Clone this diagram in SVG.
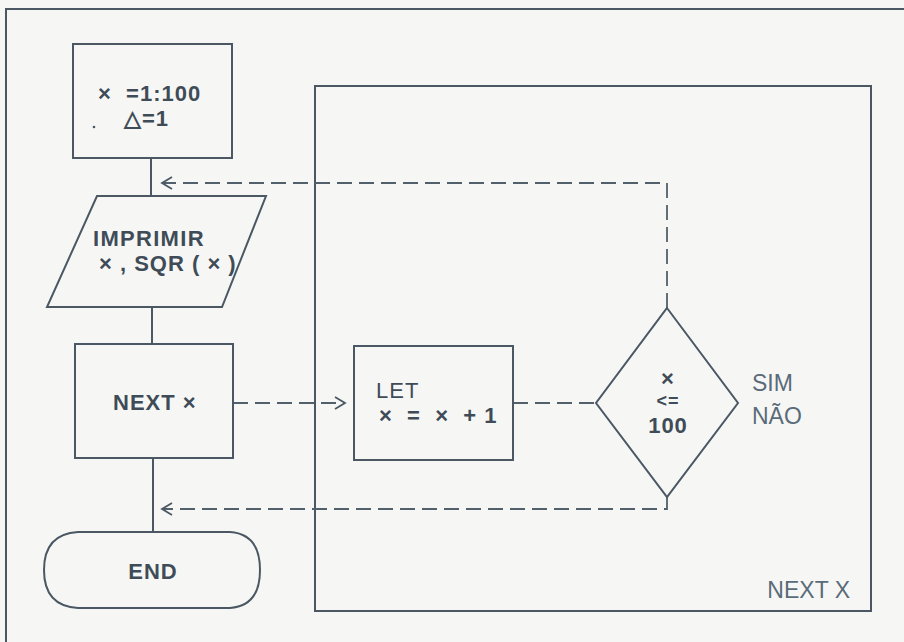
<svg xmlns="http://www.w3.org/2000/svg" width="904" height="642" viewBox="0 0 904 642">
<defs>
<style>
.s{fill:none;stroke:#4b5864;stroke-width:2}
.d{fill:none;stroke:#52606c;stroke-width:1.8;stroke-dasharray:15 7}
.t{font-family:"Liberation Sans",Arial,sans-serif;font-size:22px;font-weight:bold;fill:#3f4c58;letter-spacing:1px}
.r{font-family:"Liberation Sans",Arial,sans-serif;font-size:23px;fill:#5a6b7a}
</style>
<marker id="ah" markerWidth="14" markerHeight="14" refX="12" refY="7" orient="auto" markerUnits="userSpaceOnUse">
<path d="M2,1 L12,7 L2,13" fill="none" stroke="#4b5864" stroke-width="1.8"/>
</marker>
</defs>
<rect width="904" height="642" fill="#f6f7f5"/>
<path class="s" d="M6,642 V9 H904"/>
<g id="loop-frame">
<rect class="s" x="315" y="86" width="556" height="525" stroke-width="1.6"/>
<text class="r" x="850" y="598" text-anchor="end">NEXT X</text>
</g>
<g id="connectors">
<line class="s" x1="151" y1="158" x2="151" y2="196" stroke-width="1.6"/>
<line class="s" x1="152" y1="307" x2="152" y2="344" stroke-width="1.6"/>
<line class="s" x1="153" y1="458" x2="153" y2="532" stroke-width="1.6"/>
<path class="d" d="M233,403 H345" marker-end="url(#ah)"/>
<path class="d" d="M667,308 V183 H162" marker-end="url(#ah)"/>
<path class="d" d="M513,403 H596"/>
<path class="d" d="M667,497 V509 H162" marker-end="url(#ah)"/>
</g>
<g id="init">
<rect class="s" x="73" y="44" width="159" height="114"/>
<text class="t" x="98" y="101" xml:space="preserve">×  =1:100</text>
<text class="t" x="124" y="126">△=1</text>
<circle cx="94" cy="127" r="1.3" fill="#4b5864"/>
</g>
<g id="print">
<polygon class="s" points="97,196 266,196 222,307 47,307"/>
<text class="t" x="93" y="246" style="letter-spacing:1.3px">IMPRIMIR</text>
<text class="t" x="99" y="271" xml:space="preserve">× , SQR ( × )</text>
</g>
<g id="next">
<rect class="s" x="75" y="344" width="158" height="114"/>
<text class="t" x="113" y="410">NEXT ×</text>
</g>
<g id="let">
<rect class="s" x="354" y="346" width="159" height="114"/>
<text class="t" x="376" y="398" style="font-weight:normal">LET</text>
<text class="t" x="379" y="423" xml:space="preserve">×  =  ×  + 1</text>
</g>
<g id="decision">
<polygon class="s" points="667,308 738,403 667,497 596,403"/>
<text class="t" x="668" y="386" text-anchor="middle">×</text>
<text class="t" x="668" y="407" text-anchor="middle" style="font-size:18px">&lt;=</text>
<text class="t" x="668" y="433" text-anchor="middle">100</text>
<text class="r" x="752" y="391">SIM</text>
<text class="r" x="752" y="424">NÃO</text>
</g>
<g id="end">
<path class="s" d="M78,532 H230 Q260,534 260,570 Q260,606 230,608 H78 Q44,606 44,570 Q44,534 78,532 Z"/>
<text class="t" x="153" y="579" text-anchor="middle">END</text>
</g>
</svg>
